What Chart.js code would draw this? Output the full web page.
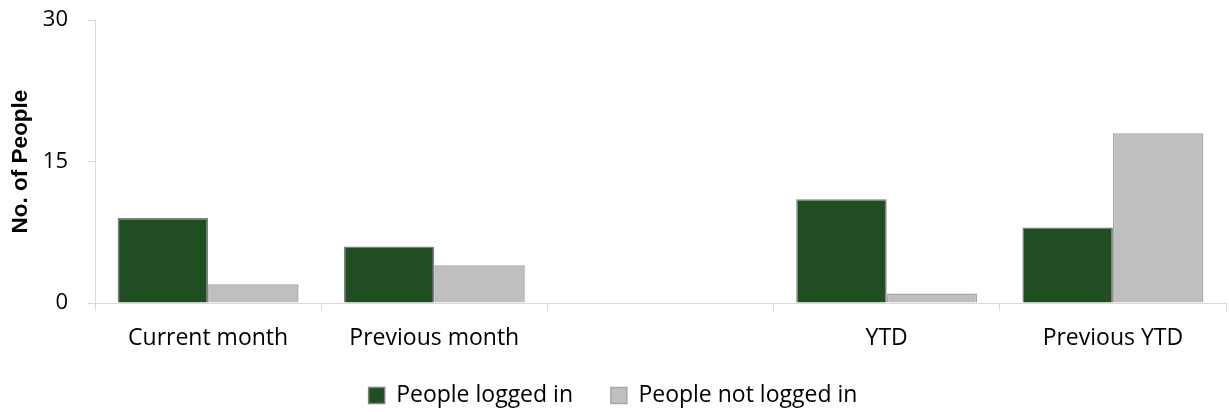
<!DOCTYPE html>
<html>
<head>
<meta charset="utf-8">
<script src="https://cdn.jsdelivr.net/npm/chart.js@4/dist/chart.umd.min.js"></script>
<style>
html,body{margin:0;padding:0;background:#fff;}
#wrap{width:1229px;height:412px;position:relative;}
</style>
</head>
<body>
<div id="wrap"><canvas id="c" width="1229" height="412"></canvas></div>
<script>
const categories = ["Current month", "Previous month", "", "YTD", "Previous YTD"];
const loggedIn = [9, 6, 0, 11, 8];
const notLoggedIn = [2, 4, 0, 1, 18];
const yTicks = [0, 15, 30];

const FONT = "'Open Sans', 'Noto Sans', sans-serif";
const axisColor = "#D9D9D9";

new Chart(document.getElementById('c'), {
  type: 'bar',
  data: {
    labels: categories,
    datasets: [
      { label: 'People logged in', data: loggedIn, backgroundColor: '#214D22', borderColor: '#7F7F7F', borderWidth: 1.5, categoryPercentage: 0.8, barPercentage: 1.0 },
      { label: 'People not logged in', data: notLoggedIn, backgroundColor: '#BFBFBF', borderColor: '#A6A6A6', borderWidth: 1.5, categoryPercentage: 0.8, barPercentage: 1.0 }
    ]
  },
  options: {
    responsive: false,
    animation: false,
    devicePixelRatio: 1,
    layout: { padding: { top: 20, right: 3, left: 0, bottom: -5 } },
    plugins: {
      tooltip: { enabled: false },
      legend: {
        position: 'bottom',
        labels: {
          font: { family: FONT, size: 23 }, color: '#000', boxWidth: 16, boxHeight: 16, padding: 14,
          generateLabels: (chart) => {
            const items = Chart.defaults.plugins.legend.labels.generateLabels(chart);
            items.forEach((it, i) => { if (i < items.length - 1) it.text = it.text + '    '; });
            return items;
          }
        }
      }
    },
    scales: {
      x: {
        grid: { display: true, drawOnChartArea: false, offset: true, tickLength: 8, color: axisColor },
        border: { color: axisColor, width: 1 },
        ticks: { font: { family: FONT, size: 23 }, color: '#000', padding: 14, maxRotation: 0 },
        afterFit: (s) => { s.height = 67; }
      },
      y: {
        min: 0, max: 30,
        afterBuildTicks: (s) => { s.ticks = yTicks.map(v => ({ value: v })); },
        grid: { display: true, drawOnChartArea: false, tickLength: 7, color: axisColor },
        border: { color: axisColor, width: 1 },
        ticks: { font: { family: FONT, size: 22 }, color: '#000', padding: 20 },
        title: { display: true, text: 'No. of People', font: { family: "'Liberation Sans', Arial, sans-serif", size: 22.5, weight: 'bold' }, color: '#000', padding: { top: 7, bottom: 0 } },
        afterFit: (s) => { s.width = 95; s.paddingTop = 0; s.paddingBottom = 0; }
      }
    }
  }
});
</script>
</body>
</html>
